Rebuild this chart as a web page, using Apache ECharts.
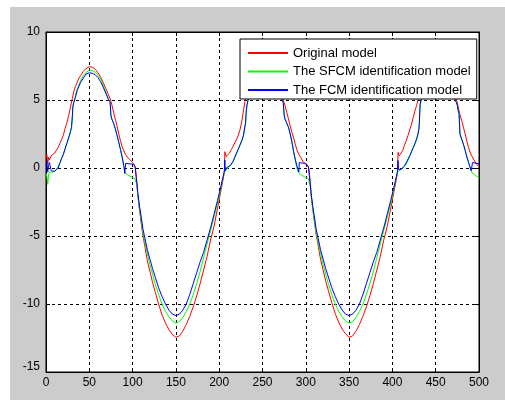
<!DOCTYPE html>
<html><head><meta charset="utf-8">
<script src="https://cdn.jsdelivr.net/npm/echarts@6/dist/echarts.min.js"></script>
<style>
html,body{margin:0;padding:0;background:#fff;}
#bg{position:absolute;left:10px;top:7px;width:495px;height:393px;background:#cccccc;}
#chart{position:absolute;left:0;top:0;width:505px;height:400px;}
</style></head><body>
<div id="bg"></div><div id="chart"></div>
<script>
const seriesNames = ['Original model', 'The SFCM identification model', 'The FCM identification model'];
const seriesColors = ['#ff0000', '#00ff00', '#0000ff'];

const xs = [
  0,1,2,3,4,6,8,10,12,14,16,18,20,22,24,26,28,29.5,30.5,31,32,34,36,38,40,43,46,50,54,57,60,63,66,69,72,74,75,76,78,80,82,84,86,88,90,91,92,94,97,100,102,103,104,105,106,108,110,112,114,117,120,123,126,130,134,138,142,146,150,154,158,162,166,170,174,178,182,186,190,194,198,201,204,206,
  206.5,207,208,210,212,214,216,218,220,222,224,226,228,229.5,230.5,231,232,234,236,238,240,243,246,250,254,257,260,263,266,269,272,274,275,276,278,280,282,284,286,288,290,291,292,292.5,294,297,300,302,303,304,305,306,308,310,312,314,317,320,323,326,330,334,338,342,346,350,354,358,362,366,370,374,378,382,386,390,394,398,401,404,406,
  406.5,407,408,410,412,414,416,418,420,422,424,426,428,429.5,430.5,431,432,434,436,438,440,443,446,450,454,457,460,463,466,469,472,474,475,476,477,478,480,482,484,486,488,490,491,492,492.5,494,497,500
];

const original = [
  0.8,1.0,0.3,0.8,0.6,0.9,1.0,1.1,1.3,1.5,1.8,2.1,2.4,2.9,3.3,3.8,4.4,4.85,5.1,5.3,5.6,6.0,6.3,6.6,6.8,7.1,7.3,7.45,7.4,7.25,7.0,6.7,6.3,5.85,5.4,5.1,4.9,4.65,4.1,3.6,3.1,2.5,2.0,1.55,1.25,1.1,1.0,0.8,0.6,0.4,0.25,0.0,-0.5,-1.2,-2.0,-3.1,-4.1,-5.0,-5.7,-6.8,-7.6,-8.4,-9.1,-10.0,-10.8,-11.4,-11.9,-12.25,-12.45,-12.35,-12.0,-11.5,-10.9,-10.2,-9.4,-8.5,-7.5,-6.5,-5.3,-4.3,-3.0,-2.0,-1.0,-0.3,
  1.2,1.25,0.85,0.95,1.1,1.35,1.6,1.85,2.1,2.4,2.8,3.4,4.2,4.8,5.1,5.3,5.6,6.0,6.3,6.6,6.8,7.1,7.3,7.45,7.4,7.25,7.0,6.7,6.3,5.85,5.4,5.0,4.8,4.6,4.1,3.6,3.1,2.6,2.2,1.7,1.3,1.1,1.0,0.95,0.8,0.45,0.25,0.15,0.1,-0.3,-1.0,-1.8,-3.0,-4.0,-4.9,-5.6,-6.7,-7.5,-8.3,-9.0,-9.9,-10.7,-11.35,-11.85,-12.2,-12.45,-12.35,-12.0,-11.5,-10.9,-10.2,-9.4,-8.5,-7.5,-6.5,-5.3,-4.3,-3.0,-2.0,-1.0,-0.3,
  1.15,1.2,0.9,1.0,1.3,1.7,2.0,2.4,2.8,3.2,3.7,4.2,4.6,5.0,5.2,5.35,5.6,6.0,6.3,6.6,6.8,7.1,7.3,7.45,7.4,7.25,7.0,6.7,6.3,5.85,5.4,5.0,4.8,4.5,4.2,3.9,3.5,3.0,2.5,1.95,1.5,1.1,1.0,0.85,0.8,0.6,0.3,0.1
];

const sfcm = [
  -0.4,-0.6,-1.2,-0.5,-0.3,-0.2,-0.3,-0.2,-0.1,0.1,0.4,0.7,1.0,1.4,1.8,2.2,2.6,3.0,3.9,4.5,4.8,5.3,5.8,6.1,6.4,6.8,7.0,7.2,7.15,7.05,6.85,6.55,6.1,5.6,5.1,4.85,3.9,3.6,3.3,2.9,2.4,1.9,1.35,0.75,0.05,-0.3,-0.4,-0.5,-0.6,-0.7,-0.75,-0.8,-0.9,-1.3,-2.0,-3.0,-3.9,-4.8,-5.4,-6.3,-7.1,-7.8,-8.5,-9.3,-10.0,-10.55,-10.95,-11.25,-11.4,-11.3,-11.0,-10.55,-10.0,-9.3,-8.5,-7.6,-6.6,-5.6,-4.6,-3.6,-2.6,-1.8,-0.8,-0.3,
  -0.2,-0.35,-0.15,0.0,0.1,0.25,0.45,0.75,1.05,1.35,1.65,2.0,2.35,2.95,3.3,4.0,4.6,5.2,5.7,6.1,6.4,6.8,7.0,7.2,7.15,7.05,6.85,6.55,6.1,5.6,5.1,4.8,3.9,3.6,3.3,3.0,2.5,1.9,1.1,0.5,-0.1,-0.25,-0.35,-0.4,-0.45,-0.6,-0.7,-0.75,-0.8,-0.9,-1.3,-2.0,-3.0,-3.9,-4.8,-5.4,-6.3,-7.1,-7.8,-8.5,-9.3,-10.0,-10.55,-10.95,-11.25,-11.4,-11.3,-11.0,-10.55,-10.0,-9.3,-8.5,-7.6,-6.6,-5.6,-4.6,-3.6,-2.6,-1.8,-0.8,-0.3,
  -0.2,-0.35,-0.2,-0.1,0.0,0.1,0.3,0.55,0.85,1.15,1.45,1.75,2.1,2.45,2.8,3.1,4.6,5.2,5.7,6.1,6.4,6.8,7.0,7.2,7.15,7.05,6.85,6.55,6.1,5.6,5.1,4.8,4.6,4.2,4.0,2.5,2.1,1.75,1.3,0.8,0.4,0.0,-0.2,-0.35,-0.4,-0.45,-0.6,-0.7
];

const fcm = [
  0.3,0.5,-0.3,0.2,0.4,-0.2,-0.3,-0.25,-0.2,0.0,0.35,0.7,1.0,1.4,1.8,2.2,2.6,3.0,3.9,4.5,4.8,5.2,5.7,6.0,6.3,6.6,6.9,7.0,6.95,6.85,6.65,6.35,5.95,5.5,5.05,4.85,3.85,3.6,3.3,2.9,2.4,1.9,1.35,0.8,0.1,-0.4,0.35,0.35,0.3,0.3,0.25,0.1,-0.6,-1.1,-1.8,-2.8,-3.6,-4.5,-5.1,-6.0,-6.7,-7.4,-8.0,-8.8,-9.45,-10.0,-10.45,-10.75,-10.85,-10.75,-10.45,-10.0,-9.3,-8.5,-7.7,-6.9,-6.2,-5.3,-4.4,-3.4,-2.4,-1.6,-0.8,-0.2,
  0.6,-0.2,0.0,0.05,0.15,0.3,0.5,0.8,1.1,1.4,1.7,2.0,2.4,3.0,3.3,4.0,4.6,5.2,5.65,6.0,6.3,6.6,6.9,7.0,6.95,6.85,6.65,6.35,5.95,5.5,5.05,4.8,3.9,3.6,3.3,3.0,2.5,1.9,1.2,0.6,0.1,-0.1,-0.3,0.4,0.35,0.35,0.35,0.3,0.1,-0.5,-1.1,-1.8,-2.8,-3.6,-4.5,-5.1,-6.0,-6.7,-7.4,-8.0,-8.8,-9.45,-10.0,-10.45,-10.75,-10.85,-10.75,-10.45,-10.0,-9.3,-8.5,-7.7,-6.9,-6.2,-5.3,-4.4,-3.4,-2.4,-1.6,-0.8,-0.2,
  0.55,-0.1,0.0,-0.1,0.0,0.15,0.4,0.65,0.9,1.2,1.5,1.8,2.15,2.5,2.85,3.2,4.7,5.2,5.65,6.0,6.3,6.6,6.9,7.0,6.95,6.85,6.65,6.35,5.95,5.5,5.05,4.8,4.6,4.2,4.0,2.5,2.1,1.75,1.3,0.8,0.4,0.0,-0.2,-0.3,0.4,0.35,0.35,0.3
];

const xMin = 0, xMax = 500, xStep = 50;
const yMin = -15, yMax = 10, yStep = 5;

const font = 'Liberation Sans, Arial, Helvetica, sans-serif';
const chart = echarts.init(document.getElementById('chart'), null, {renderer: 'canvas'});
const allY = [original, sfcm, fcm];

const baseAxis = {
  axisLine: {show: true, onZero: false, lineStyle: {color: '#000', width: 1}},
  axisTick: {show: true, inside: true, length: 4, lineStyle: {color: '#000'}},
};

chart.setOption({
  animation: false,
  backgroundColor: 'transparent',
  grid: {left: 46, right: 26, top: 32, bottom: 28, show: true, backgroundColor: '#fff', borderColor: '#000', borderWidth: 1},
  legend: {
    data: seriesNames,
    orient: 'vertical',
    left: 240, top: 39,
    itemWidth: 40, itemHeight: 14, itemGap: 4.5,
    padding: [7, 6, 2, 7],
    backgroundColor: '#fff', borderColor: '#000', borderWidth: 1,
    itemStyle: {opacity: 0},
    textStyle: {fontFamily: font, fontSize: 13, color: '#000', lineHeight: 14},
    selectedMode: false
  },
  xAxis: [
    Object.assign({}, baseAxis, {
      type: 'value', min: xMin, max: xMax, interval: xStep, position: 'bottom',
      axisLabel: {margin: 5, fontFamily: font, fontSize: 12, color: '#000'},
      splitLine: {show: true, lineStyle: {color: '#000', type: [3, 3], width: 1}}
    }),
    Object.assign({}, baseAxis, {
      type: 'value', min: xMin, max: xMax, interval: xStep, position: 'top',
      axisLabel: {show: false}, splitLine: {show: false}
    })
  ],
  yAxis: [
    Object.assign({}, baseAxis, {
      type: 'value', min: yMin, max: yMax, interval: yStep, position: 'left',
      axisLabel: {
        margin: 6, fontFamily: font, fontSize: 12, color: '#000',
        formatter: v => v === yMin ? '{lo|' + v + '}' : String(v),
        rich: {lo: {fontFamily: font, fontSize: 12, color: '#000', padding: [0, 0, 10, 0]}}
      },
      splitLine: {show: true, lineStyle: {color: '#000', type: [3, 3], width: 1}}
    }),
    Object.assign({}, baseAxis, {
      type: 'value', min: yMin, max: yMax, interval: yStep, position: 'right',
      axisLabel: {show: false}, splitLine: {show: false}
    })
  ],
  series: seriesNames.map((name, k) => ({
    name: name,
    type: 'line',
    xAxisIndex: 0, yAxisIndex: 0,
    symbol: 'none',
    symbolSize: 0,
    clip: true,
    color: seriesColors[k],
    lineStyle: {color: seriesColors[k], width: 1},
    data: xs.map((x, i) => [x, allY[k][i]])
  }))
});
</script>
</body></html>
